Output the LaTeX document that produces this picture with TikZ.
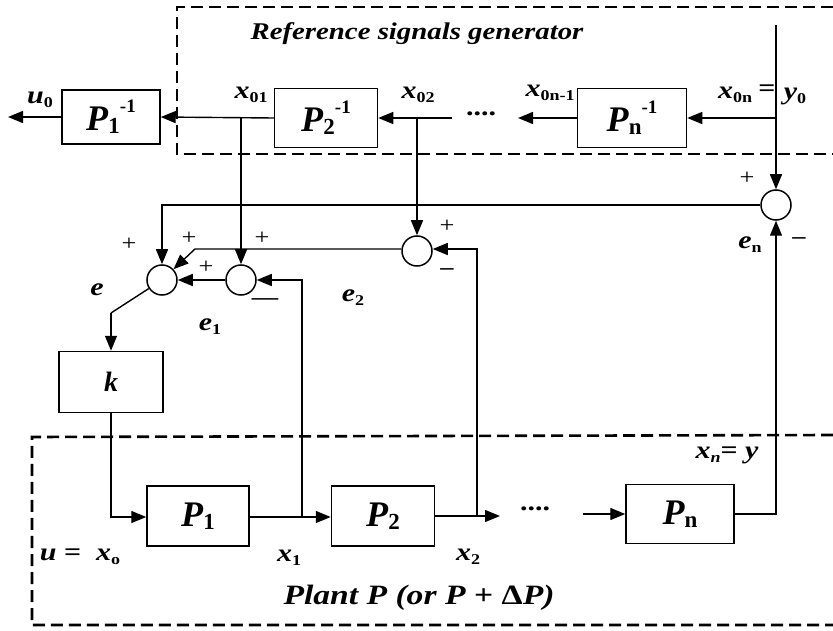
\documentclass[tikz,border=0pt]{standalone}
\usepackage{fontspec}
\setmainfont[FakeStretch=1.2]{Liberation Serif}
\newfontfamily\bxf{Liberation Serif}
\usetikzlibrary{arrows.meta}
\newcommand{\bi}[1]{\textbf{\textit{#1}}}
\newcommand{\lsub}[1]{\raisebox{-4pt}{\fontsize{15}{15}\selectfont\bfseries #1}}
\newcommand{\bsub}[1]{\raisebox{-3pt}{\fontsize{23}{23}\selectfont\bfseries #1}}
\newcommand{\bsup}[1]{\raisebox{18pt}{\fontsize{19}{19}\selectfont\bfseries #1}}
\begin{document}
\begin{tikzpicture}[x=1pt,y=-1pt,
  line/.style={line width=1.4pt},
  arr/.style={line width=1.4pt,-{Triangle[length=15pt,width=12pt]}},
  blk/.style={draw,line width=1.5pt,inner sep=0pt,font=\bxf\fontsize{36}{36}\selectfont},
  sum/.style={draw,circle,line width=1.5pt,minimum size=30pt,inner sep=0pt},
  dbox/.style={line width=2.6pt,dash pattern=on 12pt off 6pt},
  lab/.style={inner sep=0pt,font=\fontsize{25}{25}\selectfont\bfseries},
  sgn/.style={inner sep=0pt,font=\fontsize{22}{22}\selectfont}]
\useasboundingbox (0,0) rectangle (833,631);
% dashed boxes
\draw[dbox] (833,7) -- (177,7) -- (177,154) -- (833,154);
\draw[dbox] (833,435) -- (32,437) -- (32,625) -- (833,625);
\node[lab,font=\fontsize{24}{24}\selectfont\bfseries\itshape] (title) at (417,34) {Reference signals generator};
\node[lab,font=\fontsize{28}{28}\selectfont\bfseries] (plant) at (419,598) {\bi{Plant P (or P} + Δ\bi{P)}};
% blocks
\node[blk,minimum width=98pt,minimum height=54pt] (P1inv) at (111,117) {\bi{P}\bsub{1}\bsup{-1}};
\node[blk,minimum width=103pt,minimum height=59pt] (P2inv) at (326,118) {\bi{P}\bsub{2}\bsup{-1}};
\node[blk,minimum width=109pt,minimum height=59pt] (Pninv) at (632,118) {\bi{P}\bsub{n}\bsup{-1}};
\node[blk,minimum width=104pt,minimum height=61pt,font=\bxf\fontsize{28}{28}\selectfont] (k) at (111,382) {\bi{k}};
\node[blk,minimum width=102pt,minimum height=60pt] (P1) at (198,516) {\bi{P}\bsub{1}};
\node[blk,minimum width=103pt,minimum height=60pt] (P2) at (383,516) {\bi{P}\bsub{2}};
\node[blk,minimum width=108pt,minimum height=59pt] (Pn) at (680,514) {\bi{P}\bsub{n}};
% summing junctions
\node[sum] (e) at (162,280) {};
\node[sum] (e1) at (241,280) {};
\node[sum] (e2) at (417,251) {};
\node[sum] (en) at (776,205) {};
% coordinates
\coordinate (uout) at (8,117);
\coordinate (b01) at (241,118);
\coordinate (b02) at (417,118);
\coordinate (d2) at (452,118);
\coordinate (dn) at (518,118);
\coordinate (ytop) at (776,25);
\coordinate (bn) at (776,118);
\coordinate (encorner) at (162,205);
\coordinate (k2) at (195,249);
\coordinate (kink) at (111,313);
\coordinate (kdown) at (111,517);
\coordinate (b1) at (302,517);
\coordinate (b1up) at (302,280);
\coordinate (b2) at (477,516);
\coordinate (b2up) at (477,249);
\coordinate (x2end) at (500,516);
\coordinate (pnin) at (583,514);
\coordinate (ynout) at (776,514);
% top chain
\draw[arr] (P1inv.west) -- (uout);
\draw[arr] (P2inv.west) -- (P1inv.east);
\draw[arr] (d2) -- (P2inv.east);
\draw[arr] (Pninv.west) -- (dn);
\draw[line] (ytop) -- (bn);
\draw[arr] (bn) -- (Pninv.east);
\draw[arr] (bn) -- (en.north);
\node[lab] (dots1) at (481,114) {....};
% references down to junctions
\draw[arr] (b01) -- (e1.north);
\draw[arr] (b02) -- (e2.north);
% error paths
\draw[arr] (en.west) -- (encorner) -- (e.north);
\draw[arr] (e2.west |- k2) -- (k2) -- (e);
\draw[arr] (e1.west) -- (e.east);
\draw[line] (e) -- (kink);
\draw[arr] (kink) -- (k.north);
% plant chain
\draw[arr] (k.south) -- (kdown) -- (P1.west |- kdown);
\draw[arr] (P1.east |- b1) -- (P2.west |- b1);
\draw[arr] (b1) -- (b1up) -- (e1.east);
\draw[arr] (P2.east) -- (x2end);
\draw[arr] (b2) -- (b2up) -- (e2.east |- b2up);
\node[lab] (dots2) at (535,509) {....};
\draw[arr] (pnin) -- (Pn.west);
\draw[arr] (Pn.east) -- (ynout) -- (en.south);
% labels
\node[lab] (lu0) at (40,100) {\bi{u}\lsub{0}};
\node[lab] (lx01) at (251,95) {\bi{x}\lsub{01}};
\node[lab] (lx02) at (418,95) {\bi{x}\lsub{02}};
\node[lab] (lx0n1) at (550,93) {\bi{x}\lsub{0n-1}};
\node[lab] (lx0n) at (735,95) {\bi{x}\lsub{0n}};
\node[lab] (leq) at (767,91) {=};
\node[lab] (ly0) at (795,96) {\bi{y}\lsub{0}};
\node[sgn] (s1) at (747,178) {+};
\node[sgn,font=\fontsize{22}{22}\selectfont\bfseries] (s2) at (799,241) {–};
\node[lab] (len) at (750,245) {\bi{e}\lsub{n}};
\node[sgn] (s3) at (129,244) {+};
\node[sgn] (s4) at (189,238) {+};
\node[sgn] (s5) at (262,238) {+};
\node[sgn] (s6) at (206,267) {+};
\node[sgn] (s7) at (447,226) {+};
\node[sgn,font=\fontsize{22}{22}\selectfont\bfseries] (s8) at (447,272) {–};
\node[sgn,font=\fontsize{22}{22}\selectfont\bfseries] (s9) at (265,302) {—};
\node[lab] (le) at (97,290) {\bi{e}};
\node[lab] (le1) at (210,327) {\bi{e}\lsub{1}};
\node[lab] (le2) at (353,298) {\bi{e}\lsub{2}};
\node[lab] (lxn) at (727,455) {\bi{x}\raisebox{-4pt}{\fontsize{15}{15}\selectfont\bfseries\itshape n}= \bi{y}};
\node[lab] (lu) at (80,557) {\bi{u} =\ \ \bi{x}\lsub{o}};
\node[lab] (lx1) at (289,558) {\bi{x}\lsub{1}};
\node[lab] (lx2) at (468,557) {\bi{x}\lsub{2}};
\end{tikzpicture}
\end{document}
